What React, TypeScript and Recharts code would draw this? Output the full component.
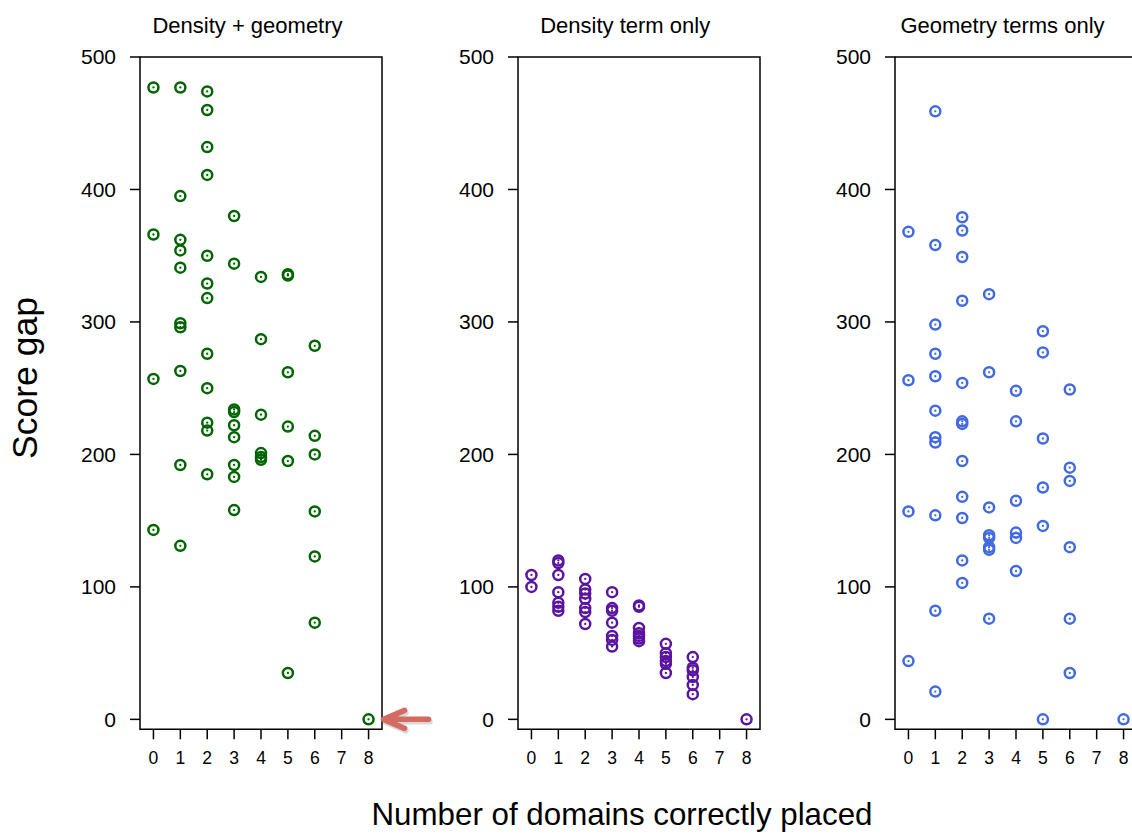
import React from 'react';
import { ScatterChart, Scatter, XAxis, YAxis, ReferenceArea, ReferenceDot } from 'recharts';

const FONT = '"Liberation Sans", Arial, Helvetica, sans-serif';

const domainTicks = [0, 1, 2, 3, 4, 5, 6, 7, 8];
const gapTicks = [0, 100, 200, 300, 400, 500];
const panelTitles = ['Density + geometry', 'Density term only', 'Geometry terms only'];
const panelColors = ['#006400', '#5a14a0', '#4169e1'];

// score gaps grouped by number of domains correctly placed (index = count)
const combinedGaps: number[][] = [
  [477, 366, 257, 143],
  [477, 395, 362, 354, 341, 299, 296, 263, 192, 131],
  [474, 460, 432, 411, 350, 329, 318, 276, 250, 224, 218, 185],
  [380, 344, 234, 232, 222, 213, 192, 183, 158],
  [334, 287, 230, 201, 198, 196],
  [336, 335, 262, 221, 195, 35],
  [282, 214, 200, 157, 123, 73],
  [],
  [0],
];

const densityGaps: number[][] = [
  [109, 100],
  [120, 118, 109, 96, 88, 85, 82],
  [106, 98, 95, 91, 84, 81, 72],
  [96, 84, 82, 73, 63, 60, 55],
  [86, 85, 69, 65, 63, 61, 59],
  [57, 50, 47, 44, 42, 35],
  [47, 39, 37, 32, 26, 19],
  [],
  [0],
];

const geometryGaps: number[][] = [
  [368, 256, 157, 44],
  [459, 358, 298, 276, 259, 233, 213, 209, 154, 82, 21],
  [379, 369, 349, 316, 254, 225, 223, 195, 168, 152, 120, 103],
  [321, 262, 160, 139, 137, 130, 128, 76],
  [248, 225, 165, 141, 137, 112],
  [293, 277, 212, 175, 146, 0],
  [249, 190, 180, 130, 76, 35],
  [],
  [0],
];

const makeMarker = (color: string) => (props: any) => {
  const { cx, cy } = props;
  if (cx == null || cy == null) return <g />;
  return (
    <g>
      <circle cx={cx} cy={cy} r={5} fill="none" stroke={color} strokeWidth={2.5} />
      <circle cx={cx} cy={cy} r={1.15} fill={color} />
    </g>
  );
};

const Arrow = (props: any) => {
  const { cx, cy } = props;
  if (cx == null || cy == null) return <g />;
  const tipX = cx + 15;
  const backX = cx + 36;
  const endX = cx + 60;
  const color = '#d36b62';
  const d = `M ${tipX} ${cy} L ${endX} ${cy} M ${backX} ${cy - 9} L ${tipX} ${cy} L ${backX} ${cy + 9}`;
  return (
    <g>
      <path d={d} transform="translate(1.5,2.5)" stroke="#000" strokeOpacity={0.15} strokeWidth={5.5} fill="none" strokeLinecap="round" strokeLinejoin="round" />
      <path d={d} stroke={color} strokeWidth={5.5} fill="none" strokeLinecap="round" strokeLinejoin="round" />
    </g>
  );
};

function Panel({ left, gaps, color, showArrow }: { left: number; gaps: number[][]; color: string; showArrow?: boolean }) {
  const data = gaps.flatMap((ys, i) => ys.map((y) => ({ domains: domainTicks[i], gap: y })));
  return (
    <div style={{ position: 'absolute', left, top: 0 }}>
      <ScatterChart width={440} height={835} margin={{ top: 57, right: 58, bottom: 65.7, left: 0 }}>
        <XAxis
          type="number"
          dataKey="domains"
          domain={[-0.5, 8.5]}
          ticks={domainTicks}
          allowDataOverflow
          interval={0}
          height={40}
          axisLine={false}
          tickLine={{ stroke: '#000', strokeWidth: 1.5 }}
          tickSize={10}
          tickMargin={12.4}
          tick={{ fill: '#000', fontSize: 17.5, fontFamily: FONT }}
        />
        <YAxis
          type="number"
          dataKey="gap"
          domain={[-7.5, 500]}
          ticks={gapTicks}
          allowDataOverflow
          interval={0}
          width={140}
          axisLine={false}
          tickLine={{ stroke: '#000', strokeWidth: 1.5 }}
          tickSize={10}
          tickMargin={14}
          tick={{ fill: '#000', fontSize: 21, fontFamily: FONT }}
        />
        <ReferenceArea
          x1={-0.5}
          x2={8.5}
          y1={-7.5}
          y2={500}
          fill="none"
          fillOpacity={0}
          stroke="#000"
          strokeWidth={1.5}
          ifOverflow="visible"
        />
        <Scatter data={data} shape={makeMarker(color)} isAnimationActive={false} />
        {showArrow ? <ReferenceDot x={8} y={0} shape={Arrow} ifOverflow="visible" /> : null}
      </ScatterChart>
    </div>
  );
}

const boxLefts = [140, 517.7, 895];

export default function App() {
  return (
    <div
      style={{
        position: 'absolute',
        left: 0,
        top: 0,
        width: 1132,
        height: 835,
        overflow: 'hidden',
        background: '#fff',
        fontFamily: FONT,
      }}
    >
      <Panel left={boxLefts[0] - 140} gaps={combinedGaps} color={panelColors[0]} showArrow />
      <Panel left={boxLefts[1] - 140} gaps={densityGaps} color={panelColors[1]} />
      <Panel left={boxLefts[2] - 140} gaps={geometryGaps} color={panelColors[2]} />
      <svg
        width={1132}
        height={835}
        style={{ position: 'absolute', left: 0, top: 0, pointerEvents: 'none' }}
      >
        {panelTitles.map((t, i) => (
          <text key={t} x={boxLefts[i] + 107.5} y={33.3} textAnchor="middle" fontSize={22} fontFamily={FONT} fill="#000">
            {t}
          </text>
        ))}
        <text x={622} y={825} textAnchor="middle" fontSize={31.3} fontFamily={FONT} fill="#000">
          Number of domains correctly placed
        </text>
        <text
          x={0}
          y={0}
          transform="translate(37,378) rotate(-90)"
          textAnchor="middle"
          fontSize={35.5}
          fontFamily={FONT}
          fill="#000"
        >
          Score gap
        </text>
      </svg>
    </div>
  );
}
